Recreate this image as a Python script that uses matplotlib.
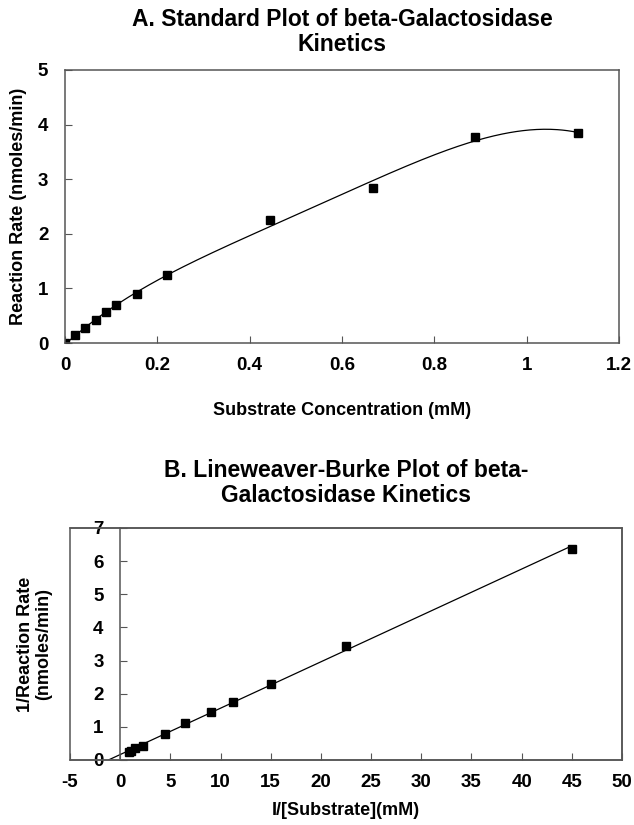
import numpy as np
import matplotlib
matplotlib.use("Agg")
import matplotlib.pyplot as plt
from matplotlib.patches import Rectangle

# ---- Data: Standard plot ----
substrate_mM = [0.0, 0.0222, 0.0444, 0.0667, 0.0889, 0.111, 0.156, 0.222, 0.444, 0.667, 0.889, 1.111]
rate = [0.0, 0.15, 0.28, 0.42, 0.56, 0.70, 0.89, 1.24, 2.26, 2.83, 3.78, 3.84]

# ---- Data: Lineweaver-Burke ----
inv_substrate = [0.9, 1.125, 1.5, 2.25, 4.5, 6.43, 9.0, 11.25, 15.0, 22.5, 45.0]
inv_rate = [0.25, 0.27, 0.35, 0.43, 0.79, 1.11, 1.44, 1.76, 2.30, 3.45, 6.37]

top_xticks = [0, 0.2, 0.4, 0.6, 0.8, 1, 1.2]
top_xticklabels = ["0", "0.2", "0.4", "0.6", "0.8", "1", "1.2"]
top_yticks = [0, 1, 2, 3, 4, 5]
bot_xticks = [-5, 0, 5, 10, 15, 20, 25, 30, 35, 40, 45, 50]
bot_yticks = [0, 1, 2, 3, 4, 5, 6, 7]

plt.rcParams['font.family'] = ['Liberation Sans', 'DejaVu Sans']
plt.rcParams['font.weight'] = 'bold'
plt.rcParams['axes.unicode_minus'] = False

W, H = 634, 825
fig = plt.figure(figsize=(W / 100, H / 100), dpi=100)

def px_axes(l, t, r, b):
    return fig.add_axes([l / W, (H - b) / H, (r - l) / W, (b - t) / H])

spine_col = '#555555'
tick_fs = 13.5
lab_fs = 13
title_fs = 16.5

# ---------- Top plot ----------
ax1 = px_axes(65, 70, 619, 343)
x1 = np.array(substrate_mM)
y1 = np.array(rate)
coef = np.polyfit(x1, y1, 4)
xs = np.linspace(x1.min(), x1.max(), 300)
ax1.plot(xs, np.polyval(coef, xs), color='black', lw=0.9)
ax1.plot(x1, y1, 's', color='black', ms=6)
ax1.set_xlim(0, 1.2)
ax1.set_ylim(0, 5)
ax1.set_xticks(top_xticks)
ax1.set_xticklabels(top_xticklabels)
ax1.set_yticks(top_yticks)
ax1.tick_params(axis='both', direction='in', length=5, color=spine_col, labelsize=tick_fs)
ax1.tick_params(axis='x', pad=10)
ax1.tick_params(axis='y', pad=12)
for s in ax1.spines.values():
    s.set_color(spine_col)
    s.set_linewidth(1.1)
ax1.set_xlabel("Substrate Concentration (mM)", fontsize=lab_fs, fontweight='bold', labelpad=20)
ax1.set_ylabel("Reaction Rate (nmoles/min)", fontsize=lab_fs, fontweight='bold', labelpad=8)
ax1.set_title("A. Standard Plot of beta-Galactosidase\nKinetics", fontsize=title_fs,
              fontweight='bold', pad=14, linespacing=1.1)

# ---------- Bottom plot ----------
ax2 = px_axes(70, 528, 622, 760)
x2 = np.array(inv_substrate)
y2 = np.array(inv_rate)
b, a = np.polyfit(x2, y2, 1)
x_int = -a / b
xl = np.array([x_int, x2.max()])
ax2.plot(xl, a + b * xl, color='black', lw=0.9)
ax2.plot(x2, y2, 's', color='black', ms=6)
ax2.set_xlim(-5, 50)
ax2.set_ylim(0, 7)
ax2.set_xticks(bot_xticks)
ax2.set_yticks(bot_yticks)
ax2.spines['left'].set_position(('data', 0))
for s in ax2.spines.values():
    s.set_color(spine_col)
    s.set_linewidth(1.1)
ax2.add_patch(Rectangle((0, 0), 1, 1, transform=ax2.transAxes, fill=False,
                        edgecolor=spine_col, lw=1.1, clip_on=False, zorder=5))
ax2.tick_params(axis='both', direction='in', length=5, color=spine_col, labelsize=tick_fs)
ax2.tick_params(axis='x', pad=10)
ax2.tick_params(axis='y', pad=12)
ax2.set_xlabel("I/[Substrate](mM)", fontsize=lab_fs, fontweight='bold', labelpad=8)
ax2.set_ylabel("1/Reaction Rate\n(nmoles/min)", fontsize=lab_fs, fontweight='bold',
               linespacing=1.1)
ax2.yaxis.set_label_coords(52 / W, (H - 644) / H, transform=fig.transFigure)
ax2.set_title("B. Lineweaver-Burke Plot of beta-\nGalactosidase Kinetics", fontsize=title_fs,
              fontweight='bold', pad=19, linespacing=1.1)

fig.savefig("out.png", dpi=100)
